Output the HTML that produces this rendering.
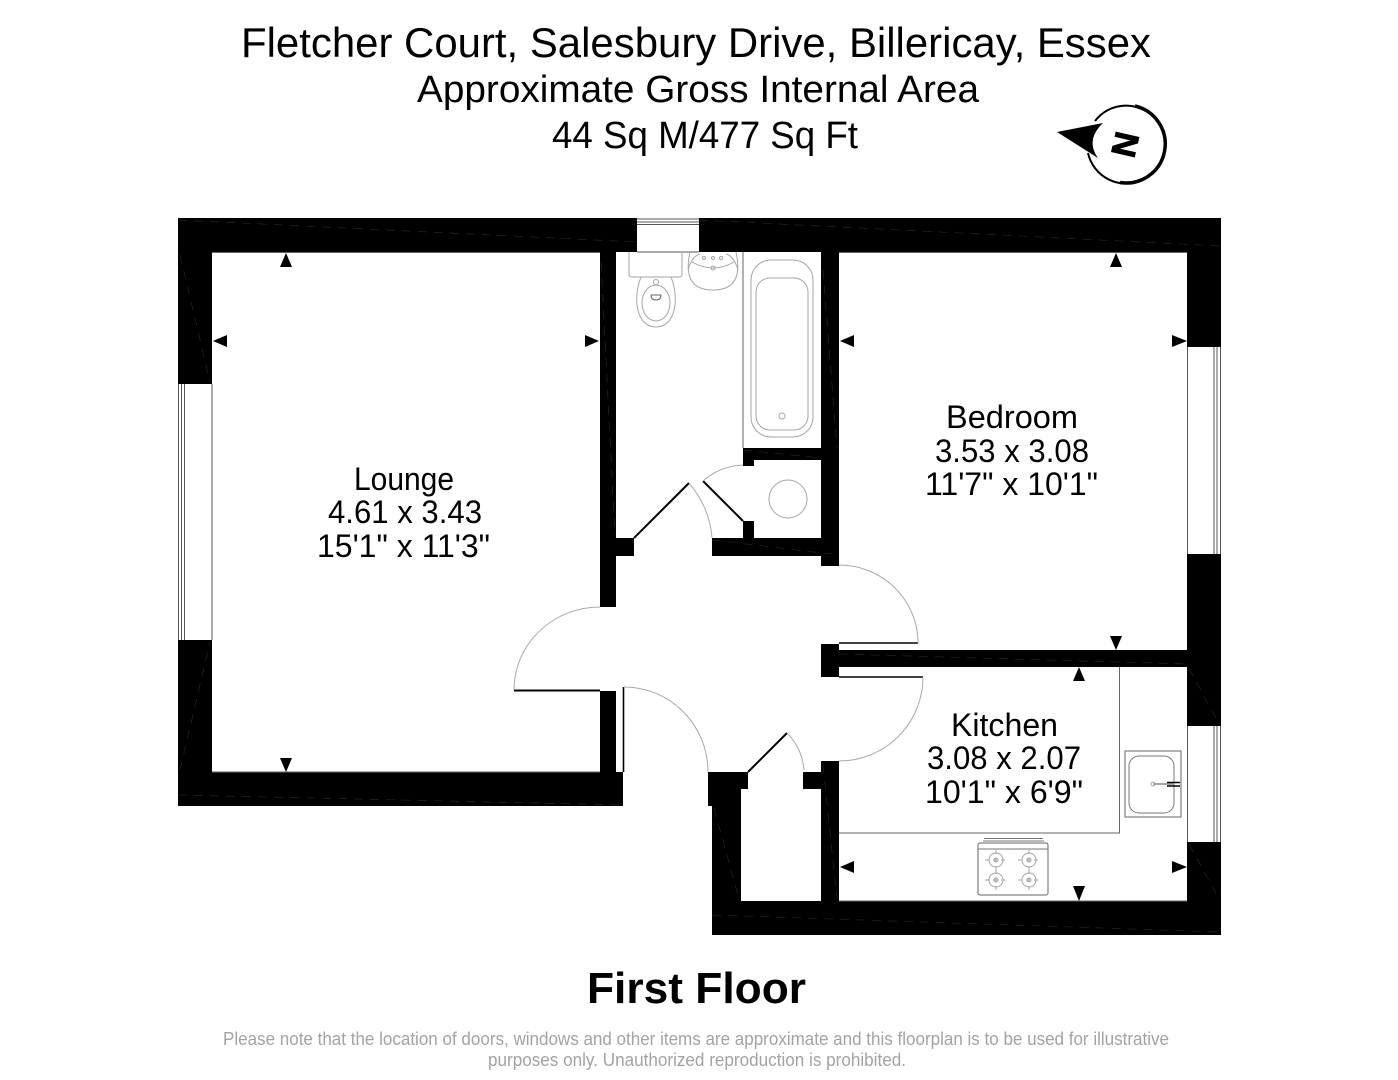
<!DOCTYPE html>
<html><head><meta charset="utf-8"><style>
html,body{margin:0;padding:0;background:#fff}
svg{display:block}
text{font-family:"Liberation Sans",sans-serif;fill:#000}
</style></head><body>
<svg width="1398" height="1080" viewBox="0 0 1398 1080" xmlns="http://www.w3.org/2000/svg">
<rect width="1398" height="1080" fill="#fff"/>
<!-- Heading -->
<text x="241" y="57" font-size="42" textLength="910" lengthAdjust="spacingAndGlyphs">Fletcher Court, Salesbury Drive, Billericay, Essex</text>
<text x="417" y="102" font-size="38" textLength="562" lengthAdjust="spacingAndGlyphs">Approximate Gross Internal Area</text>
<text x="552" y="148" font-size="38" textLength="306" lengthAdjust="spacingAndGlyphs">44 Sq M/477 Sq Ft</text>
<!-- Compass -->
<path d="M1095 121 A39 39 0 1 1 1088 153" fill="none" stroke="#000" stroke-width="2"/>
<path d="M1135 106 A39 39 0 0 1 1120 182.500" fill="none" stroke="#000" stroke-width="3.500"/>
<path d="M1057 132 L1103 123 Q1085 140 1098 158 Z" fill="#000"/>
<text x="0" y="12" font-size="34" font-weight="bold" text-anchor="middle" stroke="#000" stroke-width="1" transform="translate(1125,144.500) rotate(-77)">N</text>
<!-- Walls -->
<g fill="#000">
<rect x="178" y="218" width="459" height="34"/>
<rect x="699" y="218" width="522" height="34"/>
<rect x="178" y="252" width="34" height="132"/>
<rect x="178" y="640" width="34" height="132"/>
<rect x="178" y="772" width="445" height="34"/>
<rect x="600" y="252" width="16" height="355"/>
<rect x="600" y="691" width="16" height="81"/>
<rect x="600" y="538" width="34" height="18"/>
<rect x="712" y="538" width="127" height="18"/>
<rect x="821" y="252" width="18" height="314"/>
<rect x="743" y="448" width="78" height="12"/>
<rect x="743" y="460" width="11" height="6"/>
<rect x="743" y="521" width="11" height="17"/>
<rect x="821" y="644" width="18" height="33"/>
<rect x="839" y="650" width="382" height="17"/>
<rect x="1187" y="252" width="34" height="95"/>
<rect x="1187" y="554" width="34" height="172"/>
<rect x="1187" y="842" width="34" height="59"/>
<rect x="708" y="772" width="40" height="17"/>
<rect x="708" y="789" width="33" height="17"/>
<rect x="712" y="806" width="29" height="95"/>
<rect x="803" y="772" width="36" height="17"/>
<rect x="821" y="761" width="18" height="140"/>
<rect x="712" y="901" width="509" height="34"/>
</g>
<!-- Faint wall hatch -->
<g fill="none" stroke="#2a2a2a" stroke-width="0.6" stroke-dasharray="9 7">
<path d="M178 220 L637 242"/><path d="M699 220 L1221 246"/>
<path d="M180 255 L210 382"/><path d="M180 770 L210 642"/>
<path d="M178 795 L623 805"/><path d="M712 915 L1221 932"/>
<path d="M839 654 L1187 664"/><path d="M1189 668 L1219 724"/>
<path d="M1189 844 L1219 899"/><path d="M714 808 L739 899"/>
<path d="M823 765 L837 899"/><path d="M823 270 L837 448"/>
<path d="M601 262 L615 535"/><path d="M743 450 L821 458"/>
<path d="M712 540 L839 555"/>
</g>
<!-- Windows -->
<g fill="none" stroke="#555" stroke-width="1">
<path d="M637 219H699M637 222H699M637 224.500H699M637 252H699"/>
<path d="M178.500 384V640M181.500 384V640M184.500 384V640M212 384V640"/>
<path d="M1187.500 347V554M1214 347V554M1217 347V554M1220.500 347V554"/>
<path d="M1187.500 726V842M1214 726V842M1217 726V842M1220.500 726V842"/>
</g>
<!-- Door leaves -->
<g stroke="#000" stroke-width="2" fill="none">
<path d="M634 538L689 483"/>
<path d="M703 481L743 521"/>
<path d="M514 690.500H600"/>
<path d="M623.500 687V772" stroke-width="1.600"/><path d="M748 772L787 733"/>
<path d="M839 643H918" stroke-width="1.600"/><path d="M839 677H923" stroke-width="1.600"/>
</g>
<!-- Door arcs -->
<g stroke="#aaa" stroke-width="1" fill="none">
<path d="M689 483 Q710 508 712 538"/>
<path d="M703 481 Q720 466 743 465"/>
<path d="M514 690 A86 83 0 0 1 600 607"/>
<path d="M624 687 A84 85 0 0 1 708 772"/>
<path d="M787 733 Q802 748 804 770"/>
<path d="M839 565 A79 78 0 0 1 918 643"/>
<path d="M923 677 A84 84 0 0 1 839 761"/>
</g>
<!-- Partitions/counter -->
<g stroke="#666" stroke-width="1" fill="none">
<path d="M743 252V448"/>
<path d="M839 833H1119.500V667"/>
<path d="M212 252.500H600M839 252.500H1187M212 772H600M839 901H1187"/>
</g>
<!-- Fixtures -->
<g stroke="#a5a5a5" stroke-width="1" fill="none">
<circle cx="788" cy="499" r="19"/>
<rect x="751" y="260" width="62" height="177" rx="20"/>
<rect x="756" y="278" width="52" height="152" rx="14"/>
<circle cx="782" cy="416" r="3"/>
<path d="M629 252V274Q629 277 632 277H679Q682 277 682 274V252"/>
<path d="M641 277C632 300 637 327 656 327C675 327 680 300 671 277"/>
<ellipse cx="656" cy="303" rx="14" ry="18"/>
<circle cx="656" cy="282" r="2.500"/>
<path d="M651 295H661Q661 300 656 300Q651 300 651 295Z" stroke="#666"/>
<path d="M690 252C685 275 690 290 713 290C736 290 741 275 736 252"/>
<path d="M688 270Q692 256 700 254M738 270Q734 256 726 254M692 262Q713 274 734 262"/>
<circle cx="704" cy="258" r="1.500"/><circle cx="713" cy="258" r="1.500"/><circle cx="721" cy="258" r="1.500"/><circle cx="713" cy="268" r="2"/>
<rect x="1125" y="751" width="56" height="66" stroke="#666"/>
<rect x="1129" y="756" width="45" height="57" rx="10" stroke="#777"/>
<path d="M1153 784H1174" stroke-width="2"/>
<circle cx="1153" cy="784" r="2"/>
<rect x="978" y="843" width="70" height="52" rx="2" stroke="#666"/>
<path d="M984 838.500H1043M983 841H1044M978 849H1048" stroke="#777"/>
<circle cx="996" cy="860" r="7"/><circle cx="1029" cy="860" r="7"/><circle cx="996" cy="880" r="7"/><circle cx="1029" cy="880" r="7"/>
<path d="M985 860H1007M1018 860H1040M985 880H1007M1018 880H1040M996 850V870M1029 850V870M996 870V890M1029 870V890" stroke-dasharray="4 4"/>
<circle cx="996" cy="860" r="2"/><circle cx="1029" cy="860" r="2"/><circle cx="996" cy="880" r="2"/><circle cx="1029" cy="880" r="2"/>
</g>
<path d="M1167 782.500h13M1167 786h13" stroke="#000" stroke-width="1.500"/>
<!-- Dimension arrows -->
<g fill="#000">
<polygon points="286,253 280,267 292,267"/>
<polygon points="213,341 227,335 227,347"/>
<polygon points="599,341 585,335 585,347"/>
<polygon points="286,772 280,758 292,758"/>
<polygon points="1116,253 1110,267 1122,267"/>
<polygon points="840,341 854,335 854,347"/>
<polygon points="1187,341 1172,335 1172,347"/>
<polygon points="1116,650 1110,636 1122,636"/>
<polygon points="1079,667 1073,681 1085,681"/>
<polygon points="840,867 854,861 854,873"/>
<polygon points="1187,867 1172,861 1172,873"/>
<polygon points="1079,901 1073,886 1085,886"/>
</g>
<!-- Room labels -->
<g font-size="32">
<text x="354" y="490" textLength="100" lengthAdjust="spacingAndGlyphs">Lounge</text>
<text x="328" y="523" textLength="154" lengthAdjust="spacingAndGlyphs">4.61 x 3.43</text>
<text x="317" y="557" textLength="173" lengthAdjust="spacingAndGlyphs">15'1" x 11'3"</text>
<text x="946" y="428" textLength="132" lengthAdjust="spacingAndGlyphs">Bedroom</text>
<text x="935" y="462" textLength="154" lengthAdjust="spacingAndGlyphs">3.53 x 3.08</text>
<text x="925" y="495" textLength="173" lengthAdjust="spacingAndGlyphs">11'7" x 10'1"</text>
<text x="951" y="736" textLength="107" lengthAdjust="spacingAndGlyphs">Kitchen</text>
<text x="927" y="769" textLength="154" lengthAdjust="spacingAndGlyphs">3.08 x 2.07</text>
<text x="925" y="803" textLength="158" lengthAdjust="spacingAndGlyphs">10'1" x 6'9"</text>
</g>
<!-- Footer -->
<text x="587" y="1003" font-size="44" font-weight="bold" textLength="219" lengthAdjust="spacingAndGlyphs">First Floor</text>
<text x="223" y="1045" font-size="18" textLength="946" lengthAdjust="spacingAndGlyphs" style="fill:#a3a3a3">Please note that the location of doors, windows and other items are approximate and this floorplan is to be used for illustrative</text>
<text x="488" y="1066" font-size="18" textLength="418" lengthAdjust="spacingAndGlyphs" style="fill:#a3a3a3">purposes only. Unauthorized reproduction is prohibited.</text>
</svg>
</body></html>
